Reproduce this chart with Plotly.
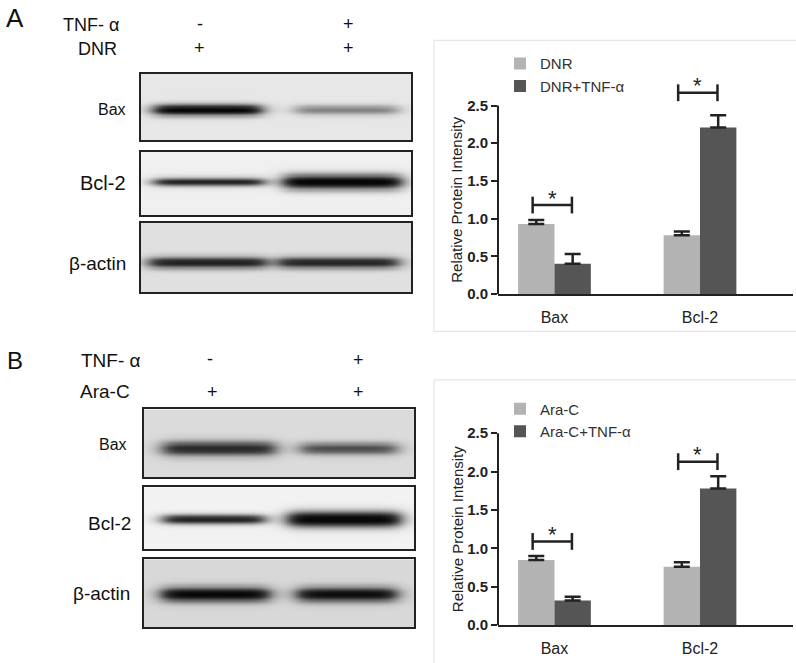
import numpy as np
import plotly.graph_objects as go

W, H = 796, 663
FONT = "Arial, Liberation Sans, sans-serif"

# ---------------- data ----------------
genes = ["Bax", "Bcl-2"]
blot_rows = ["Bax", "Bcl-2", "β-actin"]

# panel A: quantification
A_groups = ["DNR", "DNR+TNF-α"]
A_ctrl = [0.93, 0.78]
A_ctrl_err = [0.05, 0.05]
A_tnf = [0.40, 2.21]
A_tnf_err = [0.13, 0.16]
A_sig_y = [1.18, 2.67]

# panel B: quantification
B_groups = ["Ara-C", "Ara-C+TNF-α"]
B_ctrl = [0.85, 0.76]
B_ctrl_err = [0.05, 0.06]
B_tnf = [0.32, 1.78]
B_tnf_err = [0.05, 0.16]
B_sig_y = [1.09, 2.13]

y_ticks = [0.0, 0.5, 1.0, 1.5, 2.0, 2.5]

# western blot band intensities (lane 1: drug, lane 2: drug + TNF-α)
A_bands = {"Bax": [0.95, 0.40], "Bcl-2": [0.82, 1.0], "β-actin": [0.76, 0.74]}
B_bands = {"Bax": [0.70, 0.55], "Bcl-2": [0.84, 1.0], "β-actin": [0.86, 0.83]}

# ---------------- helpers ----------------
def fx(px):
    return px / W

def fy(py):
    return 1 - py / H

LIGHT = "#b3b3b3"
DARK = "#555555"
INK = "#222222"

fig = go.Figure()

# ---------- western blots as heatmaps ----------
blot_style = {
    "A": {
        "x": (141, 411),
        "rows": {
            "Bax": dict(y=(74, 141), bg=0.09, yc=0.46, th=[0.085, 0.075], c=[0.245, 0.76], hw=[0.20, 0.19]),
            "Bcl-2": dict(y=(153, 217), bg=0.05, yc=0.53, th=[0.07, 0.12], c=[0.25, 0.745], hw=[0.205, 0.22]),
            "β-actin": dict(y=(225, 295), bg=0.12, yc=0.43, th=[0.085, 0.085], c=[0.245, 0.73], hw=[0.22, 0.225]),
        },
    },
    "B": {
        "x": (144, 414),
        "rows": {
            "Bax": dict(y=(414, 483), bg=0.14, yc=0.43, th=[0.11, 0.09], c=[0.276, 0.757], hw=[0.21, 0.18]),
            "Bcl-2": dict(y=(493, 556), bg=0.04, yc=0.49, th=[0.075, 0.13], c=[0.257, 0.74], hw=[0.19, 0.21]),
            "β-actin": dict(y=(566, 635), bg=0.15, yc=0.49, th=[0.11, 0.11], c=[0.263, 0.75], hw=[0.20, 0.185]),
        },
    },
}

gray_scale = [[0.0, "#fbfbfb"], [0.12, "#e0e0e0"], [0.4, "#9a9a9a"], [0.75, "#3a3a3a"], [1.0, "#080808"]]

axis_idx = 0
layout_axes = {}
for panel, bands in (("A", A_bands), ("B", B_bands)):
    st = blot_style[panel]
    for row in blot_rows:
        axis_idx += 1
        rs = st["rows"][row]
        xs = np.linspace(0, 1, 180)
        ys = np.linspace(0, 1, 60)
        X, Y = np.meshgrid(xs, ys)
        z = np.full(X.shape, rs["bg"])
        for inten, c, hw, th in zip(bands[row], rs["c"], rs["hw"], rs["th"]):
            edge = 1 / (1 + np.exp(-(X - (c - hw)) / 0.02)) * 1 / (1 + np.exp((X - (c + hw)) / 0.02))
            prof = np.exp(-((Y - rs["yc"]) / th) ** 2)
            z = z + inten * edge * prof
        z = np.clip(z, 0, 1)
        xa = "x" if axis_idx == 1 else f"x{axis_idx}"
        ya = "y" if axis_idx == 1 else f"y{axis_idx}"
        fig.add_trace(go.Heatmap(
            x=xs, y=ys, z=z, zmin=0, zmax=1, colorscale=gray_scale, showscale=False,
            zsmooth="best", hoverinfo="skip", xaxis=xa, yaxis=ya,
        ))
        ax_common = dict(showgrid=False, zeroline=False, showticklabels=False, ticks="",
                         showline=True, mirror=True, linecolor=INK, linewidth=2, range=[0, 1],
                         fixedrange=True)
        kx = "xaxis" if axis_idx == 1 else f"xaxis{axis_idx}"
        ky = "yaxis" if axis_idx == 1 else f"yaxis{axis_idx}"
        layout_axes[kx] = dict(ax_common, domain=[fx(st["x"][0]), fx(st["x"][1])], anchor=ya)
        layout_axes[ky] = dict(ax_common, domain=[fy(rs["y"][1]), fy(rs["y"][0])], anchor=xa)

# ---------- bar charts ----------
bar_panels = [
    ("A", A_groups, A_ctrl, A_ctrl_err, A_tnf, A_tnf_err, A_sig_y, (297, 76.4), 3.1, "legend"),
    ("B", B_groups, B_ctrl, B_ctrl_err, B_tnf, B_tnf_err, B_sig_y, (632.7, 77.8), 2.6, "legend2"),
]
xpos = [0, 1]
x_range = [-0.388, 1.639]
annotations = []
shapes = []
for i, (panel, groups, c, ce, t, te, sig, (y0px, ppu), ytop, leg) in enumerate(bar_panels):
    n = 7 + i
    xa, ya = f"x{n}", f"y{n}"
    for name, vals, errs, col in ((groups[0], c, ce, LIGHT), (groups[1], t, te, DARK)):
        fig.add_trace(go.Bar(
            x=xpos, y=vals, name=name, marker=dict(color=col, line=dict(width=0)),
            error_y=dict(type="data", array=errs, arrayminus=[0] * len(errs), symmetric=False,
                         color=INK, thickness=2.5, width=8),
            xaxis=xa, yaxis=ya, legend=leg, hoverinfo="skip",
        ))
    # significance brackets
    for k, sy in enumerate(sig):
        fig.add_trace(go.Scatter(
            x=[xpos[k] - 0.15, xpos[k] + 0.12], y=[sy, sy], mode="lines+markers",
            line=dict(color=INK, width=2.5),
            marker=dict(symbol="line-ns", size=12, line=dict(color=INK, width=2.5)),
            xaxis=xa, yaxis=ya, showlegend=False, hoverinfo="skip", cliponaxis=False,
        ))
        annotations.append(dict(x=xpos[k] - 0.015, y=sy, xref=xa, yref=ya, text="*",
                                showarrow=False, yanchor="middle", yshift=7,
                                font=dict(family=FONT, size=22, color=INK)))
    top_px = y0px - ytop * ppu
    layout_axes[f"xaxis{n}"] = dict(domain=[fx(498), fx(793)], anchor=ya, range=x_range,
                                    showgrid=False, zeroline=False, showline=True, linecolor=INK,
                                    linewidth=2, ticks="", tickvals=xpos, ticktext=genes,
                                    ticklabelstandoff=8,
                                    tickfont=dict(family=FONT, size=16, color=INK), fixedrange=True)
    layout_axes[f"yaxis{n}"] = dict(domain=[fy(y0px), fy(top_px)], anchor=xa, range=[0, ytop],
                                    showgrid=False, zeroline=False, showline=False,
                                    ticks="outside", ticklen=6, tickwidth=2, tickcolor=INK,
                                    tickvals=y_ticks, tickformat=".1f",
                                    tickfont=dict(family=FONT, size=15, color=INK, weight="bold"),
                                    fixedrange=True)
    # y axis line up to 2.5 only
    shapes.append(dict(type="line", xref=f"{xa} domain", yref=ya, x0=0, x1=0, y0=0, y1=y_ticks[-1],
                       line=dict(color=INK, width=2)))
    # y title
    annotations.append(dict(x=fx(457), y=fy(y0px - 1.25 * ppu), xref="paper", yref="paper",
                            text="Relative Protein Intensity", textangle=-90, showarrow=False,
                            xanchor="center", yanchor="middle",
                            font=dict(family=FONT, size=15, color=INK)))

# light panel frames around the bar charts
shapes.append(dict(type="rect", xref="paper", yref="paper", x0=fx(434), x1=fx(805), y0=fy(335), y1=fy(40),
                   line=dict(color="#e6e6e6", width=1.2), layer="below"))
shapes.append(dict(type="rect", xref="paper", yref="paper", x0=fx(434), x1=fx(805), y0=fy(675), y1=fy(384),
                   line=dict(color="#e6e6e6", width=1.2), layer="below"))

# ---------- blot labels ----------
def txt(text, x, y, size, xanchor="center"):
    annotations.append(dict(x=fx(x), y=fy(y), xref="paper", yref="paper", text=text, showarrow=False,
                            xanchor=xanchor, yanchor="middle",
                            font=dict(family=FONT, size=size, color="#111111")))

txt("A", 4, 17, 26, "left")
txt("TNF- α", 121, 24, 18, "right")
txt("DNR", 119, 49, 18, "right")
txt("-", 200, 23, 18)
txt("+", 200, 48, 18)
txt("+", 348, 23, 18)
txt("+", 348, 48, 18)
txt("Bax", 128, 110, 16, "right")
txt("Bcl-2", 128, 184, 20, "right")
txt("β-actin", 128, 266, 19, "right")

txt("B", 5, 364, 24, "left")
txt("TNF- α", 143, 364, 19, "right")
txt("Ara-C", 132, 396, 19, "right")
txt("-", 210, 363, 18)
txt("+", 212, 396, 18)
txt("+", 358, 364, 18)
txt("+", 358, 396, 18)
txt("Bax", 129, 450, 16, "right")
txt("Bcl-2", 133, 530, 19, "right")
txt("β-actin", 132, 601, 19, "right")

legend_common = dict(xanchor="left", yanchor="top", bgcolor="rgba(0,0,0,0)",
                     font=dict(family=FONT, size=15, color="#333333"), traceorder="normal",
                     itemclick=False, itemdoubleclick=False)

fig.update_layout(
    width=W, height=H, margin=dict(l=0, r=0, t=0, b=0),
    paper_bgcolor="white", plot_bgcolor="rgba(0,0,0,0)",
    barmode="group", bargap=0.5, bargroupgap=0,
    showlegend=True,
    legend=dict(legend_common, x=fx(500), y=fy(47)),
    legend2=dict(legend_common, x=fx(500), y=fy(397)),
    annotations=annotations, shapes=shapes,
    **layout_axes,
)

fig.write_html("out.html", config={"displayModeBar": False},
               post_script="document.body.style.margin='0px';document.body.style.overflow='hidden';")
